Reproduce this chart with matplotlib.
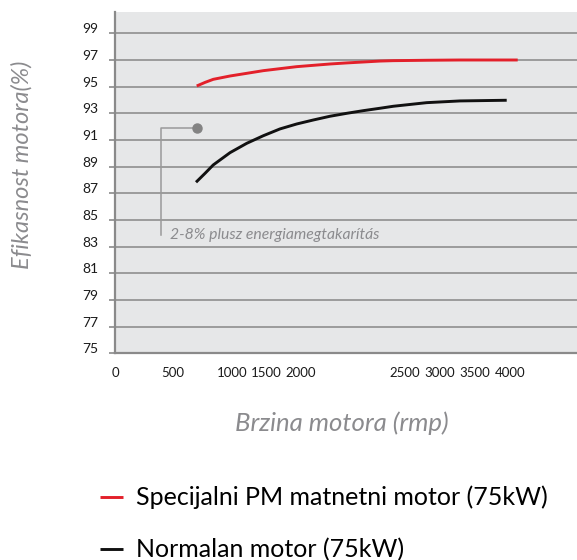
import numpy as np
import matplotlib
matplotlib.use("Agg")
import matplotlib.pyplot as plt
from matplotlib.transforms import ScaledTranslation

plt.rcParams["font.family"] = ["Lato", "DejaVu Sans"]

# x axis is not linear in the original: rpm tick -> relative position
tick_rpm = [0, 500, 1000, 1500, 2000, 2500, 3000, 3500, 4000, 5000]
tick_pos = [0, 58, 116.7, 151, 185.8, 290, 325, 360, 395, 465]
tick_labels = ["0", "500", "1000", "1500", "2000", "2500", "3000", "3500", "4000"]

y_ticks = [75, 77, 79, 81, 83, 85, 87, 89, 91, 93, 95, 97, 99]

pm_rpm = [702, 773, 843, 986, 1219, 1461, 1701, 1941, 2060, 2140, 2220, 2300,
          2380, 2444, 2810, 3286, 4110]
pm_eff = [95.05, 95.32, 95.55, 95.80, 96.00, 96.20, 96.35, 96.50, 96.60, 96.70,
          96.78, 96.85, 96.92, 96.95, 96.98, 97.0, 97.0]

std_rpm = [696, 773, 843, 986, 1219, 1461, 1701, 1941, 2060, 2140, 2220, 2300,
           2380, 2444, 2810, 3286, 3953]
std_eff = [87.83, 88.50, 89.13, 90.05, 90.75, 91.32, 91.83, 92.2, 92.5, 92.78,
           93.0, 93.2, 93.38, 93.53, 93.8, 93.93, 93.98]

note_dot = (705, 91.9)
note_corner = (400, 83.9)
note_text = "2-8% plusz energiamegtakarítás"

RED = "#e3202a"
GRAY_TXT = "#8b8b8e"


def fwd(x):
    return np.interp(x, tick_rpm, tick_pos)


def inv(p):
    return np.interp(p, tick_pos, tick_rpm)


fig = plt.figure(figsize=(5.77, 5.6), dpi=100)
ax = fig.add_axes([115 / 577, (560 - 353.3) / 560, 462 / 577, 341.3 / 560])
ax.set_xscale("function", functions=(fwd, inv))
ax.set_facecolor("#e6e7e8")

l1, = ax.plot(pm_rpm, pm_eff, color=RED, lw=2.1, solid_capstyle="butt",
              solid_joinstyle="round", label="Specijalni PM matnetni motor (75kW)", zorder=4)
l2, = ax.plot(std_rpm, std_eff, color="#111111", lw=2.1, solid_capstyle="butt",
              solid_joinstyle="round", label="Normalan motor (75kW)", zorder=4)

# annotation leader
ax.plot([note_dot[0], note_corner[0], note_corner[0]],
        [note_dot[1], note_dot[1], note_corner[1]], color="#9a9a9a", lw=1.1, zorder=3)
ax.plot([note_dot[0]], [note_dot[1]], "o", color="#838383", ms=6.5, zorder=4)
ax.text(477, 83.9, note_text, fontsize=11.3, style="italic", color=GRAY_TXT,
        va="center", ha="left")

ax.set_xlim(0, inv(462))
ax.set_ylim(75, 100.6)
ax.set_xticks(tick_rpm[:-1])
ax.set_xticklabels(tick_labels)
ax.set_yticks(y_ticks)
ax.grid(axis="y", color="#9b9b9b", lw=1.4)
ax.set_axisbelow(True)

for s in ["top", "right"]:
    ax.spines[s].set_visible(False)
for s in ["left", "bottom"]:
    ax.spines[s].set_color("#8a8a8a")
    ax.spines[s].set_linewidth(1.6)

ax.tick_params(axis="y", length=4, width=1.4, color="#9b9b9b", pad=8,
               labelsize=10, labelcolor="#1a1a1a")
ax.tick_params(axis="x", length=0, pad=10, labelsize=9.5, labelcolor="#1a1a1a")
for lab in ax.get_yticklabels():
    lab.set_transform(lab.get_transform() + ScaledTranslation(0, 5 / 100, fig.dpi_scale_trans))

fig.text(342 / 577, 1 - 423 / 560, "Brzina motora (rmp)", fontsize=18.5, style="italic",
         color=GRAY_TXT, ha="center", va="center")
fig.text(22 / 577, 1 - 164.5 / 560, "Efikasnost motora(%)", fontsize=17, style="italic",
         color=GRAY_TXT, ha="center", va="center", rotation=90)

fig.legend(handles=[l1, l2], loc="center left", bbox_to_anchor=(100 / 577, 1 - 523.5 / 560),
           frameon=False, fontsize=18, handlelength=0.9, handletextpad=0.56,
           labelspacing=1.15, borderpad=0, borderaxespad=0)

fig.savefig("out.png", dpi=100)
